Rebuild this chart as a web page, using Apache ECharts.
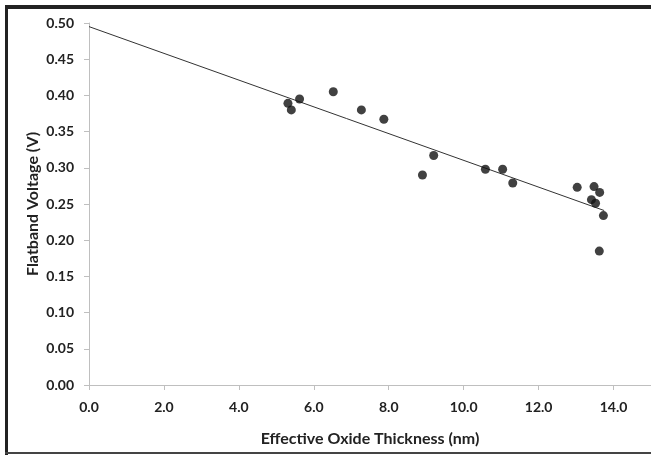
<!DOCTYPE html>
<html>
<head>
<meta charset="utf-8">
<script src="https://cdn.jsdelivr.net/npm/echarts@6/dist/echarts.min.js"></script>
<style>
  html,body{margin:0;padding:0;background:#fff;}
  #chart{width:651px;height:455px;}
</style>
</head>
<body>
<div id="chart"></div>
<script>
// measured points: effective oxide thickness (nm) vs flatband voltage (V)
var eot = [5.31, 5.40, 5.62, 6.52, 7.27, 7.87, 8.90, 9.20, 10.58, 11.04, 11.31, 13.03, 13.48, 13.63, 13.41, 13.52, 13.73, 13.62];
var vfb = [0.389, 0.380, 0.395, 0.405, 0.380, 0.367, 0.290, 0.317, 0.298, 0.298, 0.279, 0.273, 0.274, 0.266, 0.256, 0.251, 0.234, 0.185];

// linear trend line end points
var trendX = [0, 13.75];
var trendY = [0.495, 0.241];

var xTicks = [0, 2, 4, 6, 8, 10, 12, 14];

var points = eot.map(function(x, i){ return [x, vfb[i]]; });
var trend = trendX.map(function(x, i){ return [x, trendY[i]]; });

var labelFont = {fontFamily:'Lato', fontWeight:'bold', fontSize:14, color:'#222'};
var nameFont = {fontFamily:'Lato', fontWeight:'bold', fontSize:16, color:'#222'};

var myChart = echarts.init(document.getElementById('chart'));
var option = {
    animation:false,
    backgroundColor:'#fff',
    grid:{left:89, top:23, right:0, bottom:70},
    graphic:[
        {type:'rect', shape:{x:5, y:5, width:3, height:450}, style:{fill:'#222'}},
        {type:'rect', shape:{x:5, y:5, width:646, height:4}, style:{fill:'#222'}},
        {type:'rect', shape:{x:5, y:452, width:646, height:2}, style:{fill:'#444'}}
    ],
    xAxis:{
        type:'value',
        min:0,
        max:15,
        interval:1,
        name:'Effective Oxide Thickness (nm)',
        nameLocation:'middle',
        nameGap:46,
        nameTextStyle:nameFont,
        axisLine:{show:true, lineStyle:{color:'#bfbfbf', width:1}},
        axisTick:{show:true, length:5, customValues:xTicks, lineStyle:{color:'#bfbfbf'}},
        axisLabel:Object.assign({margin:15, customValues:xTicks, formatter:function(v){ return v.toFixed(1); }}, labelFont),
        splitLine:{show:false}
    },
    yAxis:{
        type:'value',
        min:0,
        max:0.5,
        interval:0.05,
        name:'Flatband Voltage (V)',
        nameLocation:'middle',
        nameGap:48,
        nameMoveOverlap:false,
        nameTextStyle:nameFont,
        axisLine:{show:true, lineStyle:{color:'#bfbfbf', width:1}},
        axisTick:{show:true, length:5, lineStyle:{color:'#bfbfbf'}},
        axisLabel:Object.assign({margin:15, formatter:function(v){ return v.toFixed(2); }}, labelFont),
        splitLine:{show:false}
    },
    series:[
        {
            name:'trend',
            type:'line',
            data:trend,
            symbol:'none',
            lineStyle:{color:'#333', width:1},
            z:1
        },
        {
            name:'data',
            type:'scatter',
            data:points,
            symbolSize:9,
            itemStyle:{color:'#111'},
            z:2
        }
    ]
};
myChart.setOption(option);
</script>
</body>
</html>
